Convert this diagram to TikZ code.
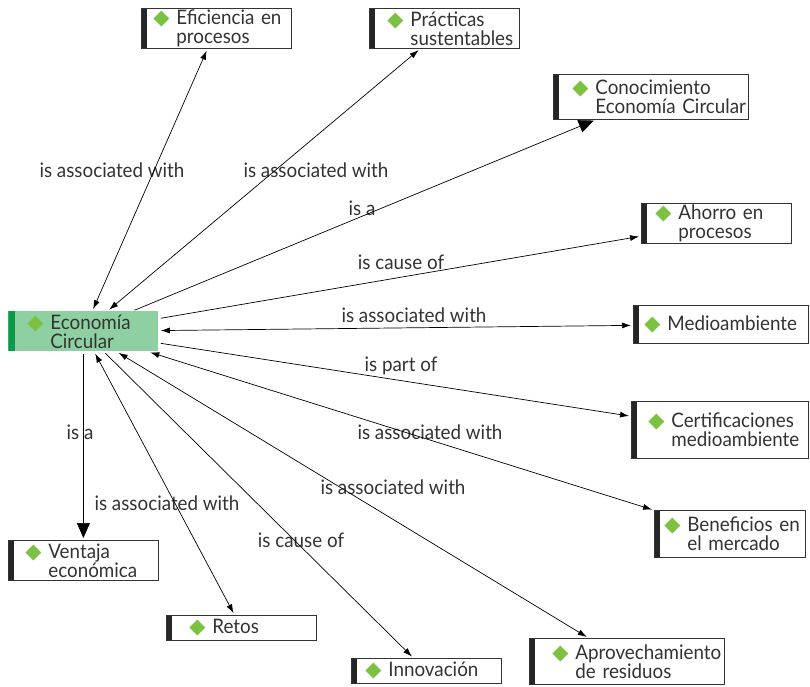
\documentclass[tikz,border=0pt]{standalone}
\usepackage{fontspec}
\setmainfont{Lato}[FakeStretch=0.94]
\newfontfamily\symfont{DejaVu Sans}
\usetikzlibrary{arrows.meta}
\definecolor{ecofill}{HTML}{8FD0A3}
\definecolor{ecobar}{HTML}{0C9A4A}
\definecolor{dmgreen}{HTML}{7DC142}
\definecolor{txtgray}{HTML}{333333}
\newcommand{\ctext}[2]{\hyphenpenalty=10000\leftskip=#1pt\relax\leavevmode\llap{{\symfont\fontsize{21}{19}\selectfont\textcolor{dmgreen}{◆}}\hspace{7pt}}#2\par}
\tikzset{
  concept/.style={draw=txtgray, line width=0.8pt, fill=white, anchor=north west,
    inner xsep=0pt, inner ysep=1pt, text width=#1, minimum width=#1, align=left,
    text=txtgray, font=\fontsize{20}{19}\selectfont,
    path picture={\fill[black!85] (path picture bounding box.south west) rectangle ([xshift=6pt]path picture bounding box.north west);}},
  core/.style={concept=#1, draw=none, fill=ecofill,
    path picture={\fill[ecobar] (path picture bounding box.south west) rectangle ([xshift=7pt]path picture bounding box.north west);}},
  lbl/.style={text=txtgray, font=\fontsize{20}{19}\selectfont, inner sep=0pt},
  link/.style={draw=black, line width=0.7pt, shorten >=2pt, shorten <=2pt},
  oneway/.style={link, -{Latex[length=9pt,width=6pt]}},
  twoway/.style={link, {Latex[length=9pt,width=6pt]}-{Latex[length=9pt,width=6pt]}},
  isalink/.style={link, -{Triangle[length=15pt,width=13pt]}}
}
\begin{document}
\begin{tikzpicture}[x=1pt,y=-1pt]
  \useasboundingbox (0,0) rectangle (810,687);
  \node[core=150pt, minimum height=40pt] (eco) at (8,311) {\ctext{42}{Economía\\Circular}};
  \node[concept=150pt, minimum height=40pt] (efi) at (141,8) {\ctext{35}{Eficiencia~en\\procesos}};
  \node[concept=150pt, minimum height=40pt] (pra) at (369,8) {\ctext{41}{Prácticas\\sustentables}};
  \node[concept=195pt, minimum height=45pt] (con) at (553,74) {\ctext{42}{Conocimiento\\Economía~Circular}};
  \node[concept=150pt, minimum height=40pt] (aho) at (641,203) {\ctext{37}{Ahorro~en\\procesos}};
  \node[concept=175pt, minimum height=38pt] (med) at (633,305) {\ctext{34}{Medioambiente}};
  \node[concept=177pt, minimum height=57pt] (cer) at (631,401) {\ctext{40}{Certificaciones\\medioambiente}};
  \node[concept=151pt, minimum height=47pt] (ben) at (654,510) {\ctext{33}{Beneficios~en\\el~mercado}};
  \node[concept=150pt, minimum height=40pt] (ven) at (8,540) {\ctext{40}{Ventaja\\económica}};
  \node[concept=150pt, minimum height=25pt] (ret) at (166,615) {\ctext{46}{Retos}};
  \node[concept=150pt, minimum height=25pt] (inn) at (351,658) {\ctext{37}{Innovación}};
  \node[concept=195pt, minimum height=46pt] (apr) at (529,638) {\ctext{46}{Aprovechamiento\\de~residuos}};

  \node[lbl] (l-efi) at (112,170) {is associated with};
  \node[lbl] (l-pra) at (316,170) {is associated with};
  \node[lbl] (l-con) at (362,208) {is a};
  \node[lbl] (l-aho) at (401,262) {is cause of};
  \node[lbl] (l-med) at (414,315) {is associated with};
  \node[lbl] (l-cer) at (401,366) {is part of};
  \node[lbl] (l-ben) at (430,432) {is associated with};
  \node[lbl] (l-apr) at (393,487) {is associated with};
  \node[lbl] (l-inn) at (301,540) {is cause of};
  \node[lbl] (l-ret) at (167,503) {is associated with};
  \node[lbl] (l-ven) at (80,432) {is a};

  \draw[twoway] (eco) -- (efi);
  \draw[twoway] (eco) -- (pra);
  \draw[isalink] (eco) -- (con);
  \draw[oneway] (eco) -- (aho);
  \draw[twoway] (eco) -- (med);
  \draw[oneway] (eco) -- (cer);
  \draw[twoway] (eco) -- (ben);
  \draw[twoway] (eco) -- (apr);
  \draw[oneway] (eco) -- (inn);
  \draw[twoway] (eco) -- (ret);
  \draw[isalink] (eco) -- (ven);
\end{tikzpicture}
\end{document}
